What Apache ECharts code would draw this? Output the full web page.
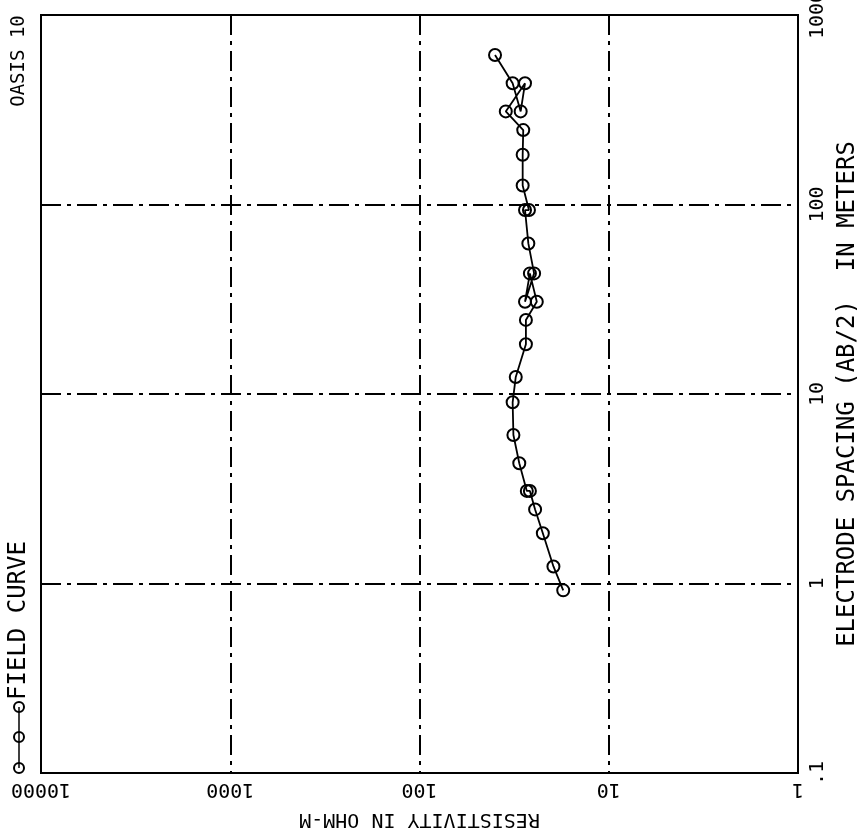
<!DOCTYPE html>
<html><head><meta charset="utf-8">
<script src="https://cdn.jsdelivr.net/npm/echarts@6/dist/echarts.min.js"></script>
<style>html,body{margin:0;padding:0;background:#fff}#c{width:857px;height:832px}</style>
</head><body><div id="c"></div>
<script>
// Electrode spacing AB/2 (m), in field order
const spacing = [0.92, 1.23, 1.84, 2.46, 3.08, 3.08, 4.31, 6.08, 9.04, 12.3, 18.3, 24.6, 30.7, 43.3, 30.7, 43.3, 62.3, 93.5, 93.5, 126, 183, 247, 310, 436, 310, 436, 615];
// Apparent resistivity (ohm-m)
const resistivity = [17.4, 19.6, 22.3, 24.5, 26.1, 27.1, 29.7, 31.9, 32.2, 31.0, 27.4, 27.4, 24.0, 26.1, 27.7, 24.8, 26.6, 27.7, 26.4, 28.5, 28.5, 28.3, 35.0, 27.7, 29.2, 32.2, 39.9];
const xTickLabels = ['1', '10', '100', '1000', '10000'];      // 10^0 .. 10^4
const yTickLabels = ['.1', '1', '10', '100', '1000'];         // 10^-1 .. 10^3

const FONT = "'DejaVu Sans Mono', monospace";
const chart = echarts.init(document.getElementById('c'), null, {renderer: 'canvas'});
const dash = [20, 6, 4, 6];
chart.setOption({
  animation: false,
  backgroundColor: '#fff',
  grid: {left: 41, right: 59, top: 15, bottom: 59, show: true, borderColor: '#000', borderWidth: 2,
    containLabel: false, outerBoundsMode: 'none'},
  xAxis: {
    type: 'log', logBase: 10, min: 1, max: 10000, inverse: true, position: 'bottom',
    axisLine: {show: true, lineStyle: {color: '#000', width: 2}},
    axisTick: {show: false},
    splitLine: {show: true, lineStyle: {color: '#000', width: 2, type: dash}},
    axisLabel: {rotate: 180, margin: 6, color: '#000', fontFamily: FONT, fontSize: 20,
      formatter: v => xTickLabels[Math.round(Math.log10(v))]},
    name: 'RESISTIVITY IN OHM-M', nameLocation: 'middle', nameGap: 36, nameRotate: 180,
    nameTextStyle: {color: '#000', fontFamily: FONT, fontSize: 20}
  },
  yAxis: {
    type: 'log', logBase: 10, min: 0.1, max: 1000, position: 'right',
    axisLine: {show: true, lineStyle: {color: '#000', width: 2}},
    axisTick: {show: false},
    splitLine: {show: true, lineStyle: {color: '#000', width: 2, type: dash}},
    axisLabel: {rotate: 90, margin: 10, color: '#000', fontFamily: FONT, fontSize: 20,
      formatter: v => yTickLabels[Math.round(Math.log10(v)) + 1]},
    name: 'ELECTRODE SPACING (AB/2)  IN METERS', nameLocation: 'middle', nameGap: 32, nameRotate: 90,
    nameTextStyle: {color: '#000', fontFamily: FONT, fontSize: 24}
  },
  series: [{
    name: 'FIELD CURVE', type: 'line',
    data: spacing.map((s, i) => [resistivity[i], s]),
    symbol: 'circle', symbolSize: 12,
    itemStyle: {color: 'rgba(0,0,0,0)', borderColor: '#000', borderWidth: 2},
    lineStyle: {color: '#000', width: 1.8}
  }],
  graphic: [
    {type: 'text', x: 19, y: 61, rotation: Math.PI / 2,
      style: {text: 'OASIS 10', fill: '#000', font: "19px " + FONT, align: 'center', verticalAlign: 'middle'}},
    {type: 'group', x: 19, y: 768, rotation: Math.PI / 2, children: [
      {type: 'line', shape: {x1: 0, y1: 0, x2: 61, y2: 0}, style: {stroke: '#000', lineWidth: 1.5}},
      {type: 'circle', shape: {cx: 0, cy: 0, r: 5}, style: {stroke: '#000', fill: 'rgba(0,0,0,0)', lineWidth: 2}},
      {type: 'circle', shape: {cx: 31, cy: 0, r: 5}, style: {stroke: '#000', fill: 'rgba(0,0,0,0)', lineWidth: 2}},
      {type: 'circle', shape: {cx: 61, cy: 0, r: 5}, style: {stroke: '#000', fill: 'rgba(0,0,0,0)', lineWidth: 2}},
      {type: 'text', x: 68, y: 0, style: {text: 'FIELD CURVE', fill: '#000', font: "24px " + FONT, align: 'left', verticalAlign: 'middle'}}
    ]}
  ]
});
</script></body></html>
